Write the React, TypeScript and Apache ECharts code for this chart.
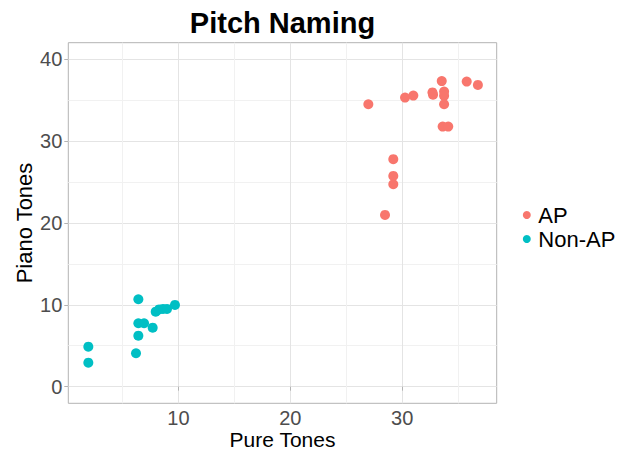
import React, { useEffect, useRef } from "react";
import * as echarts from "echarts";

const title = "Pitch Naming";
const xName = "Pure Tones";
const yName = "Piano Tones";
const seriesNames = ["AP", "Non-AP"];
const colors = ["#F8766D", "#00BFC4"];

const apX = [26.97, 30.25, 30.99, 32.70, 32.75, 33.53, 33.74, 33.74, 33.74, 33.61, 34.11, 35.76, 36.76, 29.2, 29.2, 29.2, 28.46];
const apY = [34.48, 35.29, 35.53, 35.92, 35.65, 37.3, 36.02, 35.5, 34.48, 31.75, 31.75, 37.24, 36.84, 27.77, 25.73, 24.71, 20.97];

const nonApX = [6.42, 6.42, 6.93, 6.42, 6.21, 7.70, 7.97, 8.27, 8.62, 8.98, 9.69, 1.95, 1.95];
const nonApY = [10.67, 7.74, 7.74, 6.23, 4.08, 7.20, 9.16, 9.43, 9.49, 9.49, 9.98, 4.88, 2.93];

const xTicks = [10, 20, 30];
const yTicks = [0, 10, 20, 30, 40];
const xRange = [0.16, 38.44];
const yRange = [-2.03, 41.99];

const FONT = "'Liberation Sans', Arial, Helvetica, sans-serif";

export default function App() {
  const ref = useRef<HTMLDivElement>(null);
  useEffect(() => {
    document.body.style.margin = "0";
    if (!ref.current) return;
    const chart = echarts.init(ref.current, undefined, { renderer: "svg" });
    const zip = (xs: number[], ys: number[]) => xs.map((x, i) => [x, ys[i]]);
    const axisCommon = {
      type: "value" as const,
      splitNumber: 4,
      axisLine: { show: false },
      axisTick: { show: true, length: 4, lineStyle: { color: "#B3B3B3", width: 1 } },
      splitLine: { show: true, lineStyle: { color: "#E4E4E4", width: 1 } },
      minorTick: { show: false, splitNumber: 2 },
      minorSplitLine: { show: true, lineStyle: { color: "#F1F1F1", width: 1 } },
      nameLocation: "middle" as const,
      nameMoveOverlap: false,
    };
    chart.setOption({
      animation: false,
      backgroundColor: "#FFFFFF",
      title: {
        text: title,
        left: 282.5,
        textAlign: "center",
        top: 8,
        padding: 0,
        textStyle: { fontFamily: FONT, fontSize: 29, fontWeight: "bold", color: "#000000", lineHeight: 29 },
      },
      legend: {
        orient: "vertical",
        left: 522.8,
        top: 204,
        padding: 0,
        itemGap: 2,
        itemWidth: 13,
        itemHeight: 8,
        icon: "circle",
        data: seriesNames,
        textStyle: { fontFamily: FONT, fontSize: 22, color: "#000000", lineHeight: 20 },
      },
      grid: {
        left: 68.3,
        top: 42.7,
        width: 428.4,
        height: 360.6,
        show: true,
        borderColor: "#B3B3B3",
        borderWidth: 1,
        backgroundColor: "#FFFFFF",
        containLabel: false,
        outerBoundsMode: "none",
      },
      xAxis: {
        ...axisCommon,
        min: xRange[0],
        max: xRange[1],
        name: xName,
        nameGap: 26,
        nameTextStyle: { fontFamily: FONT, fontSize: 21, color: "#000000", lineHeight: 21 },
        axisTick: { ...axisCommon.axisTick, customValues: xTicks },
        axisLabel: {
          customValues: xTicks,
          margin: 5,
          fontFamily: FONT,
          fontSize: 20,
          lineHeight: 20,
          color: "#4D4D4D",
        },
      },
      yAxis: {
        ...axisCommon,
        min: yRange[0],
        max: yRange[1],
        name: yName,
        nameGap: 33,
        nameTextStyle: { fontFamily: FONT, fontSize: 22, color: "#000000", lineHeight: 22 },
        axisTick: { ...axisCommon.axisTick, customValues: yTicks },
        axisLabel: {
          customValues: yTicks,
          margin: 6,
          fontFamily: FONT,
          fontSize: 20,
          color: "#4D4D4D",
        },
      },
      series: [
        {
          name: seriesNames[0],
          type: "scatter",
          symbol: "circle",
          symbolSize: 10,
          itemStyle: { color: colors[0], opacity: 1 },
          data: zip(apX, apY),
        },
        {
          name: seriesNames[1],
          type: "scatter",
          symbol: "circle",
          symbolSize: 10,
          itemStyle: { color: colors[1], opacity: 1 },
          data: zip(nonApX, nonApY),
        },
      ],
    });
    return () => chart.dispose();
  }, []);
  return <div ref={ref} style={{ width: 629, height: 453 }} />;
}
